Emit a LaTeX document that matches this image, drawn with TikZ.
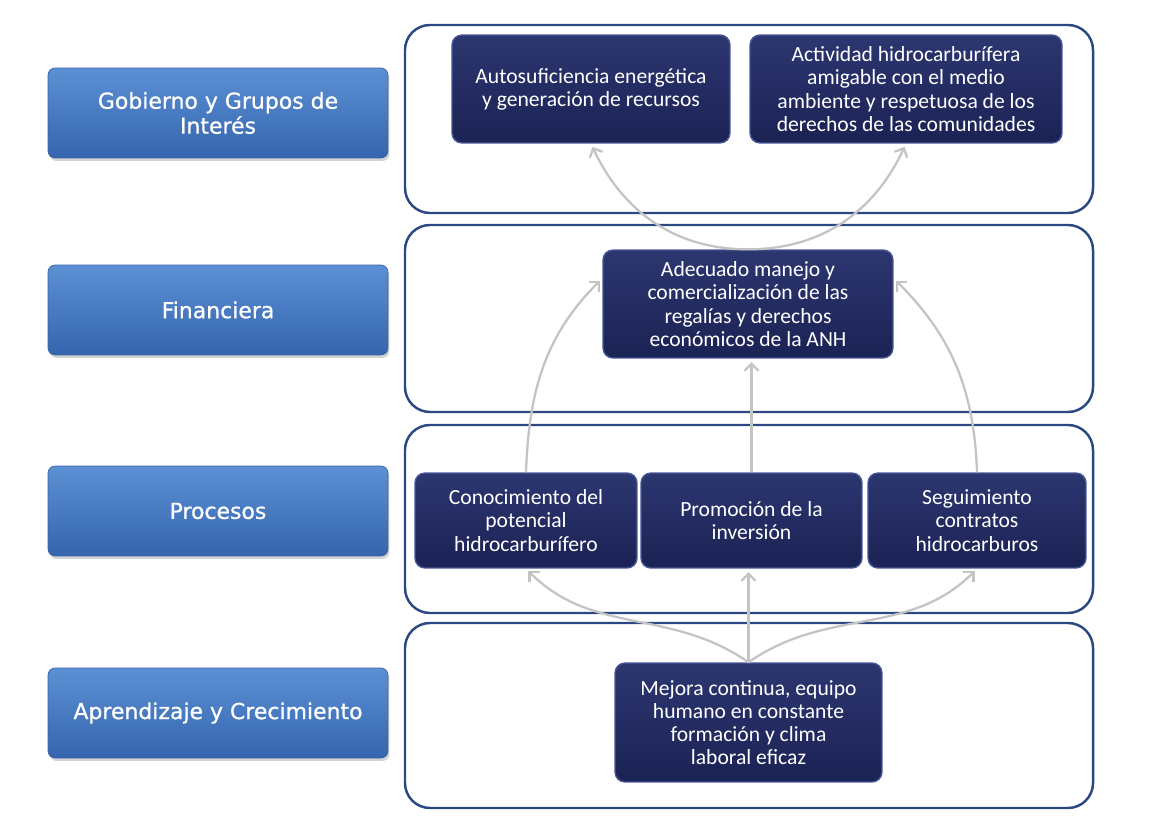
\documentclass[tikz,border=0pt]{standalone}
\usepackage{fontspec}
\setmainfont{Carlito}
\newfontfamily\labelfont[FakeBold=0.8]{DejaVu Sans}
\usetikzlibrary{positioning,shadows,arrows.meta}

\definecolor{panelblue}{RGB}{43,72,130}
\definecolor{navytop}{RGB}{44,54,112}
\definecolor{navybot}{RGB}{27,34,84}
\definecolor{navyedge}{RGB}{70,86,150}
\definecolor{sidetop}{RGB}{92,144,212}
\definecolor{sidebot}{RGB}{52,101,174}
\definecolor{sideedge}{RGB}{60,100,165}
\definecolor{linkgray}{RGB}{196,196,196}

\begin{document}
\begin{tikzpicture}[x=0.02cm,y=-0.02cm,
	perspective/.style={rounded corners=0.14cm,top color=sidetop,bottom color=sidebot,draw=sideedge,
		minimum width=6.8cm,minimum height=1.8cm,align=center,text=white,
		font=\labelfont\fontsize{12.5}{14.2}\selectfont,
		drop shadow={opacity=0.35,shadow xshift=0.03cm,shadow yshift=-0.06cm}},
	objective/.style={rounded corners=0.2cm,top color=navytop,bottom color=navybot,draw=navyedge,
		line width=0.8pt,align=center,text=white,font=\fontsize{12.3}{13.2}\selectfont,inner sep=0pt},
	panel/.style={draw=panelblue,line width=1.4pt,rounded corners=0.5cm},
	link/.style={->,>={Straight Barb[length=4pt,width=8pt]},draw=linkgray,line width=1.3pt,shorten >=2pt},
	]
	\useasboundingbox (0,0) rectangle (1175,817);
	%panels
	\draw[panel] (405,25) rectangle (1093,213);
	\draw[panel] (405,225) rectangle (1093,412);
	\draw[panel] (405,425) rectangle (1093,613);
	\draw[panel] (405,623) rectangle (1093,808);
	%perspectives
	\node[perspective] (gob) at (218,113) {Gobierno y Grupos de\\Interés};
	\node[perspective] (fin) at (218,310) {Financiera};
	\node[perspective] (proc) at (218,511) {Procesos};
	\node[perspective] (apr) at (218,713) {Aprendizaje y Crecimiento};
	%objectives
	\node[objective,minimum width=5.56cm,minimum height=2.16cm] (auto) at (591,89)
		{Autosuficiencia energética\\y generación de recursos};
	\node[objective,minimum width=6.24cm,minimum height=2.16cm] (activ) at (906,89)
		{Actividad hidrocarburífera\\amigable con el medio\\ambiente y respetuosa de los\\derechos de las comunidades};
	\node[objective,minimum width=5.8cm,minimum height=2.16cm] (adec) at (748,304)
		{Adecuado manejo y\\comercialización de las\\regalías y derechos\\económicos de la ANH};
	\node[objective,minimum width=4.44cm,minimum height=1.9cm] (cono) at (526,520.5)
		{Conocimiento del\\potencial\\hidrocarburífero};
	\node[objective,minimum width=4.42cm,minimum height=1.9cm] (prom) at (751.5,520.5)
		{Promoción de la\\inversión};
	\node[objective,minimum width=4.36cm,minimum height=1.9cm] (segu) at (977,520.5)
		{Seguimiento\\contratos\\hidrocarburos};
	\node[objective,minimum width=5.34cm,minimum height=2.38cm] (mejo) at (748.5,722.5)
		{Mejora continua, equipo\\humano en constante\\formación y clima\\laboral eficaz};
	%links
	\draw[link] (adec.north) to[out=180,in=-65] (auto.south);
	\draw[link] (adec.north) to[out=0,in=-115] (activ.south);
	\draw[link] (cono.north) to[out=88,in=-135] (adec.170);
	\draw[link] (prom.north) -- (prom.north |- adec.south);
	\draw[link] (segu.north) to[out=92,in=-45] (adec.10);
	\draw[link] (mejo.north) to[out=145,in=-45] (cono.south);
	\draw[link] (mejo.north) -- (mejo.north |- prom.south);
	\draw[link] (mejo.north) to[out=35,in=-135] (segu.south);
\end{tikzpicture}
\end{document}
